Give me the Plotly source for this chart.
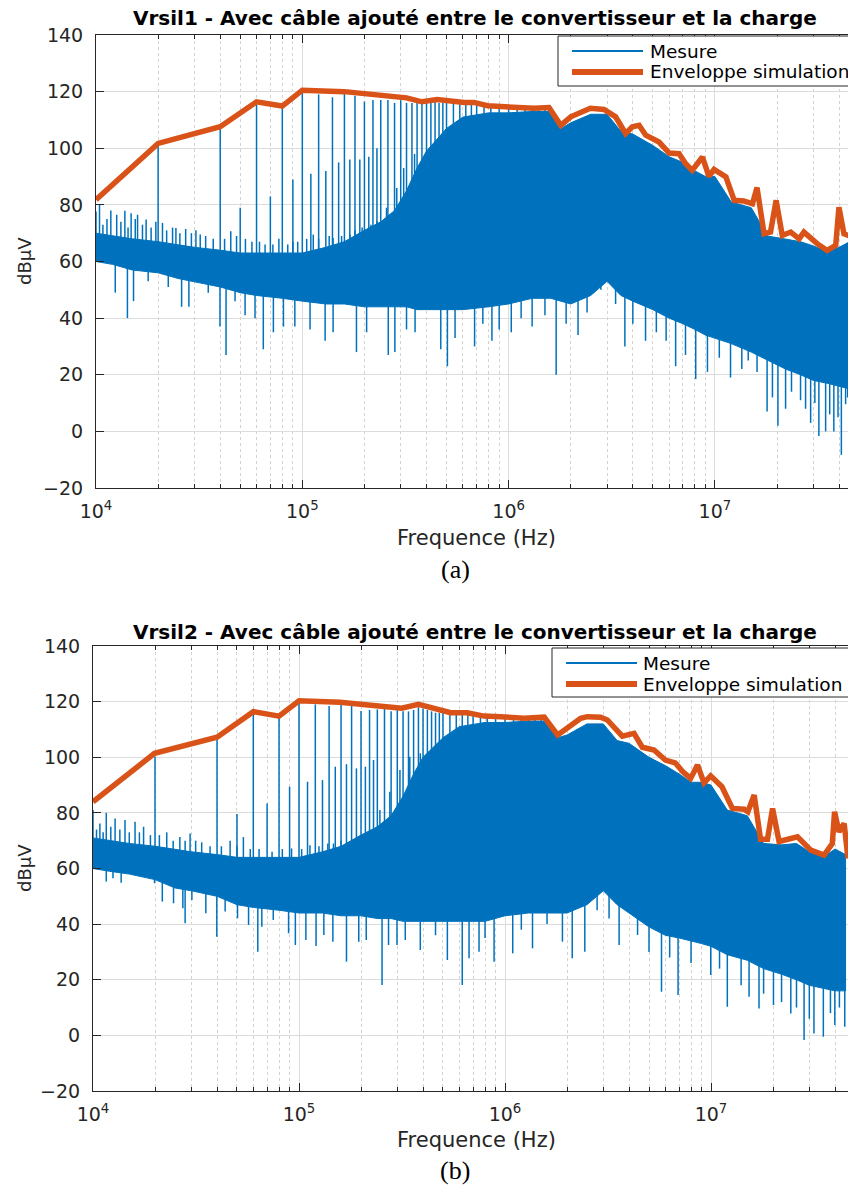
import plotly.graph_objects as go

W, H = 848, 1185

# ---------------- données panneau (a) : Vrsil1 ----------------
env_a_f = [1.0e4, 2.0e4, 4.0e4, 6.0e4, 8.0e4, 1.0e5, 1.6e5, 2.4e5, 3.2e5, 3.8e5,
           4.5e5, 6.1e5, 6.8e5, 7.9e5, 9.9e5, 1.19e6, 1.33e6, 1.57e6, 1.79e6, 2.0e6,
           2.49e6, 2.9e6, 3.3e6, 3.69e6, 3.98e6, 4.29e6, 4.62e6, 5.36e6, 6.0e6, 6.7e6,
           7.2e6, 7.76e6, 8.3e6, 8.7e6, 9.35e6, 9.9e6, 1.13e7, 1.24e7, 1.38e7, 1.52e7,
           1.6e7, 1.73e7, 1.86e7, 1.98e7, 2.12e7, 2.33e7, 2.56e7, 2.7e7, 3.13e7, 3.5e7,
           3.85e7, 3.99e7, 4.22e7, 4.5e7]
env_a_db = [81.8, 101.7, 107.6, 116.4, 114.9, 120.5, 120.0, 118.8, 117.8, 116.4,
            117.2, 116.2, 116.2, 115.0, 114.6, 114.4, 114.1, 114.4, 108.1, 111.1,
            114.1, 113.7, 111.1, 105.2, 107.6, 108.1, 104.6, 102.2, 98.3, 98.1,
            94.6, 92.2, 95.2, 96.9, 90.1, 92.5, 89.9, 81.6, 81.4, 80.4,
            86.1, 69.8, 70.4, 81.6, 69.2, 70.4, 68.0, 70.4, 66.3, 63.9,
            65.7, 79.2, 69.8, 69.0]

core_f = [1.0e4, 1.2e4, 1.5e4, 2.0e4, 2.5e4, 3.0e4, 4.0e4, 5.0e4, 6.0e4, 8.0e4,
          1.0e5, 1.3e5, 1.6e5, 2.0e5, 2.4e5, 2.8e5, 3.2e5, 3.6e5, 4.0e5, 5.0e5,
          6.0e5, 8.0e5, 1.0e6, 1.3e6, 1.6e6, 1.8e6, 2.0e6, 2.5e6, 3.0e6, 3.5e6,
          4.0e6, 5.0e6, 6.0e6, 7.0e6, 8.0e6, 9.0e6, 1.0e7, 1.2e7, 1.5e7, 1.8e7,
          2.2e7, 2.6e7, 3.0e7, 3.5e7, 4.0e7, 4.5e7]
core_a_hi = [70, 69, 68, 67, 66, 65, 64, 63, 63, 63,
             63, 65, 67, 71, 74, 78, 85, 93, 99, 107,
             111, 112.5, 112.5, 113, 113, 107, 109, 112, 112, 106,
             105, 101, 97, 95, 92, 90, 90, 81, 79, 69,
             68, 67, 65.5, 63.5, 65, 67]
core_a_lo = [60, 59, 57, 56, 54, 53, 51, 49, 48, 47,
             46, 45, 45, 44, 44, 44, 44, 43, 43, 43,
             43, 44, 45, 47, 47, 46, 45, 48, 53, 48,
             46, 43, 40, 38, 36, 34, 33, 31, 28, 25,
             22, 20, 18, 17, 16, 15]

up_a_f = [1.0e4, 1.04e4, 1.08e4, 1.13e4, 1.18e4, 1.26e4, 1.32e4, 1.38e4, 1.43e4, 1.48e4,
          1.55e4, 1.59e4, 1.68e4, 1.75e4, 1.85e4, 1.95e4, 2.1e4, 2.2e4, 2.35e4, 2.44e4,
          2.55e4, 2.72e4, 2.9e4, 3.05e4, 3.2e4, 3.4e4, 3.7e4, 4.2e4, 4.5e4, 4.8e4,
          5.3e4, 5.7e4, 6.2e4, 6.6e4, 7.2e4, 7.7e4, 8.5e4, 9.0e4, 9.5e4, 1.05e5,
          1.13e5, 1.2e5, 1.35e5, 1.41e5, 1.55e5, 1.7e5, 1.8e5, 1.95e5, 2.05e5, 2.15e5,
          2.3e5, 2.56e5, 2.87e5, 3.1e5, 3.5e5]
up_a_db = [77.7, 80, 73, 75, 78, 76.5, 74, 77.9, 72, 77,
           75, 76.5, 73, 74.8, 72, 74, 73.6, 71, 72, 71.8,
           70, 71.5, 70, 71, 69.5, 69, 68, 68, 70.7, 69,
           68, 67, 67, 66, 66, 68, 66, 67, 67, 68,
           69.5, 68, 69, 68.3, 69, 69.5, 71, 72, 70.7, 73,
           74.2, 79, 86, 93, 98]

dn_a_f = [1.24e4, 1.42e4, 1.52e4, 1.79e4, 2.24e4, 2.6e4, 2.82e4, 3.5e4, 3.99e4, 4.27e4,
          4.72e4, 5.28e4, 5.9e4, 6.47e4, 7.24e4, 8.1e4, 9.2e4, 1.09e5, 1.29e5, 1.41e5,
          1.83e5, 2.05e5, 2.61e5, 2.81e5, 3.2e5, 3.52e5, 4.69e5, 5.05e5, 5.5e5, 6.84e5,
          7.5e5, 8.3e5, 9.0e5, 1.03e6, 1.15e6, 1.3e6, 1.5e6, 1.7e6, 1.9e6, 2.17e6,
          2.4e6, 2.8e6, 3.3e6, 3.66e6, 4.0e6, 4.61e6, 5.2e6, 5.8e6, 6.45e6, 7.2e6,
          8.07e6, 9.2e6, 1.05e7, 1.19e7, 1.35e7, 1.45e7, 1.6e7, 1.79e7, 1.9e7, 2.02e7,
          2.2e7, 2.35e7, 2.6e7, 2.75e7, 2.91e7, 3.05e7, 3.19e7, 3.44e7, 3.6e7, 3.77e7,
          3.95e7, 4.1e7, 4.3e7, 4.4e7]
dn_a_db = [49, 40, 46, 53, 51, 44, 44, 49, 37, 27,
           46, 41, 40, 29, 35, 37, 37, 36, 32, 35,
           28, 35, 27, 28, 36, 35, 29, 23, 33, 30,
           38, 32, 36, 35, 40, 37, 41, 20, 38, 34,
           42, 50, 45, 30, 38, 32, 35, 32, 23, 27,
           18.5, 21, 26, 19, 22, 25, 21, 7, 12, 2,
           8, 14, 11, 8, 3, 10, -1.6, 0, 6, 0,
           5, -8.3, 9.6, 12]

harm_f = [2e4, 4e4, 5e4, 6e4, 7e4, 8e4, 9e4, 1e5, 1.1e5, 1.2e5,
          1.3e5, 1.4e5, 1.5e5, 1.6e5, 1.7e5, 1.8e5, 1.9e5, 2e5, 2.1e5, 2.2e5,
          2.3e5, 2.4e5, 2.6e5, 2.8e5, 3e5, 3.2e5, 3.4e5, 3.6e5, 3.8e5, 4e5,
          4.2e5, 4.4e5, 4.6e5, 4.8e5, 5e5, 5.4e5, 5.8e5, 6.2e5, 6.6e5, 7e5,
          7.6e5, 8.2e5, 9e5, 1e6, 1.1e6, 1.2e6, 1.3e6, 1.4e6, 1.5e6]
harm_a_db = [101, 107, 79, 116, 83, 115, 89, 120, 91, 119,
             92, 118, 95, 119.5, 96, 118.5, 96, 116.5, 97, 117,
             100, 117, 117, 116, 117, 116, 116, 116.5, 116, 116.5,
             116, 117, 116, 116, 116, 116, 116, 116, 116, 115.5,
             115, 115, 114.5, 114.5, 114, 114, 114, 114, 114]

# ---------------- données panneau (b) : Vrsil2 ----------------
env_b_f = [1.0e4, 1.99e4, 4.0e4, 6.0e4, 8.0e4, 1.0e5, 1.58e5, 2.38e5, 3.15e5, 3.8e5,
           4.04e5, 4.7e5, 5.45e5, 6.56e5, 7.9e5, 9.5e5, 1.24e6, 1.55e6, 1.8e6, 2.0e6,
           2.33e6, 2.51e6, 2.91e6, 3.14e6, 3.71e6, 4.23e6, 4.64e6, 5.29e6, 6.0e6, 6.7e6,
           7.3e6, 7.96e6, 8.6e6, 9.25e6, 9.96e6, 1.13e7, 1.27e7, 1.45e7, 1.51e7, 1.62e7,
           1.74e7, 1.88e7, 1.99e7, 2.14e7, 2.44e7, 2.63e7, 3.05e7, 3.54e7, 3.88e7, 3.98e7,
           4.18e7, 4.43e7, 4.62e7]
env_b_db = [84.0, 101.4, 107.2, 116.4, 114.8, 120.3, 119.8, 118.5, 117.6, 119.0,
            118.5, 117.0, 116.0, 116.0, 114.8, 114.6, 114.0, 114.4, 108.0, 110.4,
            114.0, 114.6, 114.4, 113.4, 107.6, 108.6, 103.6, 102.6, 99.0, 98.0,
            94.8, 92.4, 97.2, 90.8, 93.3, 89.4, 81.6, 81.3, 80.4, 86.4,
            70.5, 70.5, 81.6, 69.7, 70.8, 71.4, 66.6, 64.8, 69.0, 80.4,
            73.2, 76.2, 63.6]

core_b_hi = [71, 70, 69, 68, 67, 66, 65, 64, 64, 64,
             64, 66, 68, 72, 75, 79, 86, 94, 100, 107,
             111, 112.5, 112.5, 113, 113, 107, 108, 112, 112, 106,
             105, 100, 97, 94, 91, 91, 90, 81, 79, 69,
             68.5, 69, 66, 64, 67, 65]
core_b_lo = [60, 59, 58, 56, 53, 52, 50, 47, 46, 45,
             44, 44, 43, 43, 42, 42, 41, 41, 41, 41,
             41, 41, 43, 44, 44, 44, 44, 47, 52, 47,
             44, 39, 36, 35, 34, 33, 32, 29, 27, 24,
             22, 20, 18, 17, 16, 16]

up_b_f = [1.0e4, 1.04e4, 1.08e4, 1.12e4, 1.16e4, 1.22e4, 1.28e4, 1.35e4, 1.43e4, 1.5e4,
          1.6e4, 1.68e4, 1.76e4, 1.9e4, 2.1e4, 2.28e4, 2.45e4, 2.64e4, 2.8e4, 2.96e4,
          3.15e4, 3.37e4, 3.7e4, 4.2e4, 4.63e4, 5.0e4, 5.37e4, 5.8e4, 6.4e4, 7.4e4,
          8.3e4, 9.2e4, 1.03e5, 1.13e5, 1.25e5, 1.38e5, 1.47e5, 1.6e5, 1.83e5, 2.0e5,
          2.21e5, 2.47e5, 2.76e5, 3.09e5, 3.45e5, 3.88e5]
up_b_db = [81, 74, 76.2, 73, 80, 75, 78, 74, 77.4, 73,
           76.8, 73, 75, 72, 72, 73, 70, 71.3, 70, 72.6,
           70, 69.4, 68, 68, 70, 68, 71.3, 67, 67, 66,
           67, 67.2, 67, 68.4, 68, 69, 69, 70, 70.3, 72,
           73.9, 81, 87.6, 95.4, 100.2, 101.4]

dn_b_f = [1.16e4, 1.25e4, 1.37e4, 1.99e4, 2.17e4, 2.46e4, 2.73e4, 2.8e4, 3.02e4, 3.53e4,
          3.99e4, 4.38e4, 5.03e4, 5.69e4, 6.31e4, 6.6e4, 7.5e4, 8.9e4, 9.6e4, 1.08e5,
          1.21e5, 1.32e5, 1.46e5, 1.7e5, 1.95e5, 2.12e5, 2.53e5, 2.72e5, 2.99e5, 3.28e5,
          3.88e5, 4.6e5, 5.25e5, 6.2e5, 6.69e5, 7.48e5, 8.0e5, 8.85e5, 1.09e6, 1.2e6,
          1.36e6, 1.6e6, 1.9e6, 2.12e6, 2.44e6, 2.8e6, 3.2e6, 3.58e6, 4.4e6, 5.0e6,
          5.75e6, 6.3e6, 6.92e6, 8.0e6, 9.97e6, 1.1e7, 1.2e7, 1.4e7, 1.53e7, 1.71e7,
          1.8e7, 2.01e7, 2.2e7, 2.44e7, 2.6e7, 2.83e7, 3.0e7, 3.16e7, 3.51e7, 3.8e7,
          3.99e7, 4.2e7, 4.46e7]
dn_b_db = [55.3, 56.5, 54.9, 54.7, 48.1, 47.5, 45.7, 40.3, 48.7, 43.9,
           35.5, 44.5, 42.1, 39.7, 30.1, 39.1, 41.5, 36.7, 32.5, 34.3,
           32.1, 36.1, 33.7, 26.5, 33.7, 34.3, 18.1, 32.5, 32.5, 34.3,
           30.7, 36, 27.1, 18.1, 27.7, 30.1, 35, 26.5, 29.5, 38,
           31.3, 40, 33.7, 27.7, 30.1, 45, 42, 32.5, 36.1, 30,
           15.7, 28, 14.5, 26, 21.7, 24, 10.3, 18, 13.9, 9.7,
           15, 10.9, 12, 7.9, 10, -1.7, 6, 0.7, -0.5, 8,
           3.7, 10, 3.1]

harm_b_db = [100.2, 106.2, 79.6, 115.2, 83.4, 114.4, 89.4, 119.6, 91.2, 119,
             91.8, 118.4, 96.6, 119.2, 97.5, 118.4, 96, 116.6, 96.6, 117,
             99, 117.2, 117.8, 116.5, 117, 116.5, 116.5, 117, 118, 117.5,
             117, 116.5, 116, 116, 116, 115.5, 115.5, 115.5, 115.5, 115,
             114.5, 114.5, 114, 114, 113.5, 113.5, 113.5, 113.5, 114]

x_ticks = [1e4, 1e5, 1e6, 1e7]
x_ticktext = ['10<sup>4</sup>', '10<sup>5</sup>', '10<sup>6</sup>', '10<sup>7</sup>']
x_minor = [m * 10 ** d for d in range(4, 8) for m in range(2, 10)]

BLUE = '#0072BD'
ORANGE = '#D95319'
AXC = '#262626'
SPIKE_BASE = 60
FONT = 'DejaVu Sans'


def spikes(freqs, vals):
    xs, ys = [], []
    for f, v in zip(freqs, vals):
        xs += [f, f, None]
        ys += [SPIKE_BASE, v, None]
    return xs, ys


def px(x):
    return x / W


def py(y):
    return 1 - y / H


fig = go.Figure()

panels = [
    dict(xa='x', ya='y', hi=core_a_hi, lo=core_a_lo, up=(up_a_f, up_a_db),
         dn=(dn_a_f, dn_a_db), hm=(harm_f, harm_a_db), env=(env_a_f, env_a_db)),
    dict(xa='x2', ya='y2', hi=core_b_hi, lo=core_b_lo, up=(up_b_f, up_b_db),
         dn=(dn_b_f, dn_b_db), hm=(harm_f, harm_b_db), env=(env_b_f, env_b_db)),
]

for p in panels:
    # corps dense de la mesure
    fig.add_trace(go.Scatter(
        x=core_f + core_f[::-1], y=p['hi'] + p['lo'][::-1],
        fill='toself', fillcolor=BLUE, mode='lines',
        line=dict(color=BLUE, width=1),
        xaxis=p['xa'], yaxis=p['ya'], showlegend=False, hoverinfo='skip'))
    # pics (harmoniques, bruit)
    sx, sy = [], []
    for f, v in (p['hm'], p['up'], p['dn']):
        a, b = spikes(f, v)
        sx += a
        sy += b
    fig.add_trace(go.Scatter(
        x=sx, y=sy, mode='lines', line=dict(color=BLUE, width=1.5),
        xaxis=p['xa'], yaxis=p['ya'], showlegend=False, hoverinfo='skip'))
    # enveloppe simulation
    fig.add_trace(go.Scatter(
        x=p['env'][0], y=p['env'][1], mode='lines',
        line=dict(color=ORANGE, width=5.5),
        xaxis=p['xa'], yaxis=p['ya'], showlegend=False))


def xaxis_cfg(domain, rng, anchor):
    return dict(
        type='log', range=rng, domain=domain, anchor=anchor, automargin=False,
        tickvals=x_ticks, ticktext=x_ticktext,
        tickfont=dict(family=FONT, size=19, color=AXC),
        ticks='inside', ticklen=8, tickcolor=AXC,
        showline=True, linecolor=AXC, linewidth=1, mirror='ticks',
        showgrid=True, gridcolor='#dcdcdc', gridwidth=1,
        ticklabelstandoff=6,
        minor=dict(tickvals=x_minor, ticks='inside', ticklen=4, tickcolor=AXC,
                   showgrid=True, gridcolor='#d2d2d2', griddash='dot', gridwidth=1),
        zeroline=False)


def yaxis_cfg(domain, anchor):
    return dict(
        range=[-20, 140], domain=domain, anchor=anchor, automargin=False,
        tickvals=list(range(-20, 141, 20)),
        tickfont=dict(family=FONT, size=19, color=AXC),
        ticks='inside', ticklen=8, tickcolor=AXC,
        showline=True, linecolor=AXC, linewidth=1,
        showgrid=True, gridcolor='#dcdcdc', gridwidth=1,
        ticklabelstandoff=8, zeroline=False)


fig.update_layout(
    width=W, height=H,
    margin=dict(l=0, r=0, t=0, b=0, autoexpand=False),
    paper_bgcolor='white', plot_bgcolor='white',
    xaxis=xaxis_cfg([px(96), 1.0], [4, 7.645], 'y'),
    yaxis=yaxis_cfg([py(488), py(35)], 'x'),
    xaxis2=xaxis_cfg([px(93), 1.0], [4, 7.665], 'y2'),
    yaxis2=yaxis_cfg([py(1091), py(646)], 'x2'),
)

annotations = []
shapes = []

texts = [
    dict(title='Vrsil1 - Avec câble ajouté entre le convertisseur et la charge',
         ty=18, fy=538, lab='(a)', ly=569, dy=261, box=(558, 36, 86), samp=(572, 643),
         tx=648, ly1=51, ly2=72),
    dict(title='Vrsil2 - Avec câble ajouté entre le convertisseur et la charge',
         ty=632, fy=1140, lab='(b)', ly=1170, dy=868, box=(552, 648, 697), samp=(566, 637),
         tx=641, ly1=663, ly2=684),
]

for t in texts:
    annotations.append(dict(text='<b>' + t['title'] + '</b>', x=px(475), y=py(t['ty']),
                            xref='paper', yref='paper', showarrow=False,
                            xanchor='center', yanchor='middle',
                            font=dict(family=FONT, size=20, color='black')))
    annotations.append(dict(text='Frequence (Hz)', x=px(476), y=py(t['fy']),
                            xref='paper', yref='paper', showarrow=False,
                            xanchor='center', yanchor='middle',
                            font=dict(family=FONT, size=21, color=AXC)))
    annotations.append(dict(text=t['lab'], x=px(455), y=py(t['ly']),
                            xref='paper', yref='paper', showarrow=False,
                            xanchor='center', yanchor='middle',
                            font=dict(family='Liberation Serif', size=26, color='black')))
    annotations.append(dict(text='dBμV', x=px(24), y=py(t['dy']),
                            xref='paper', yref='paper', showarrow=False, textangle=-90,
                            xanchor='center', yanchor='middle',
                            font=dict(family=FONT, size=18, color=AXC)))
    # légende dessinée
    bx, by0, by1 = t['box']
    shapes.append(dict(type='rect', xref='paper', yref='paper',
                       x0=px(bx), x1=px(W + 20), y0=py(by1), y1=py(by0),
                       line=dict(color=AXC, width=1), fillcolor='white', layer='above'))
    s0, s1 = t['samp']
    shapes.append(dict(type='line', xref='paper', yref='paper',
                       x0=px(s0), x1=px(s1), y0=py(t['ly1']), y1=py(t['ly1']),
                       line=dict(color=BLUE, width=2), layer='above'))
    shapes.append(dict(type='line', xref='paper', yref='paper',
                       x0=px(s0), x1=px(s1), y0=py(t['ly2']), y1=py(t['ly2']),
                       line=dict(color=ORANGE, width=6), layer='above'))
    annotations.append(dict(text='Mesure', x=px(t['tx']), y=py(t['ly1']),
                            xref='paper', yref='paper', showarrow=False,
                            xanchor='left', yanchor='middle',
                            font=dict(family=FONT, size=18.5, color='black')))
    annotations.append(dict(text='Enveloppe simulation', x=px(t['tx']), y=py(t['ly2']),
                            xref='paper', yref='paper', showarrow=False,
                            xanchor='left', yanchor='middle',
                            font=dict(family=FONT, size=18.5, color='black')))

fig.update_layout(annotations=annotations, shapes=shapes)

# la page HTML ajoute une marge de 8 px au body : on la retire
fig.write_html("out.html", config={'displayModeBar': False},
               post_script="document.body.style.margin='0';")
